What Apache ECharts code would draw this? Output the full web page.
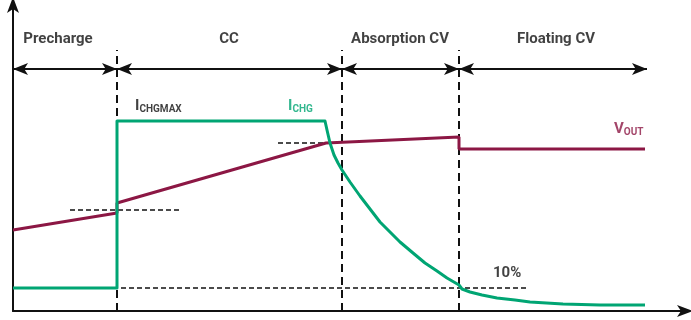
<!DOCTYPE html>
<html><head><meta charset="utf-8">
<script src="https://cdn.jsdelivr.net/npm/echarts@6/dist/echarts.min.js"></script>
<style>html,body{margin:0;padding:0;background:#fff}#c{width:691px;height:320px}</style>
</head><body><div id="c"></div>
<script>
// Data (arbitrary time / level units)
var voutData = [[0,81],[104,98],[104,108],[313,168],[446,174],[446,162],[632,162]];
var ichgData = [[0,23],[104,23],[104,190],[312,190],[314,181],[317,168],[321,156],[325,148],[329,141],[337,129],[347,115],[357,102],[367,89],[377,79],[387,69],[400,58],[412,48],[424,40],[434,33],[446,26],[449,22],[457,19],[469,16],[484,13],[502,11],[517,9],[550,7],[587,6],[632,6]];
var phaseNames = ['Precharge','CC','Absorption CV','Floating CV'];
var phaseBounds = [0,104,329,446,634];
var phaseLabelX = [45,216,387,543];
var phaseBoundaryLines = [104,329,446];
var refLines = [[57,167,101],[265,313,168],[108,514,23]]; // [xStart,xEnd,level]
var pctLabel = '10%';

var GREEN = '#00A573', MAROON = '#8C1744';
var arrowY = 242, nameY = 272, dashTop = 261;

var phaseArrows = [];
for (var i=0;i<phaseNames.length;i++){
  phaseArrows.push([{coord:[phaseBounds[i],arrowY]},{coord:[phaseBounds[i+1],arrowY]}]);
}
var vLines = phaseBoundaryLines.map(function(x){return [{coord:[x,0]},{coord:[x,dashTop]}];});
var hLines = refLines.map(function(r){return [{coord:[r[0],r[2]]},{coord:[r[1],r[2]]}];});

var labelData = phaseNames.map(function(n,i){
  return {value:[phaseLabelX[i], nameY], label:{formatter:n, align:'center'}};
});
labelData.push({value:[122,206], label:{formatter:'{m|I}{s|CHGMAX}', align:'left', color:'#111'}});
labelData.push({value:[275,206], label:{formatter:'{m|I}{s|CHG}', align:'left', color:GREEN}});
labelData.push({value:[601,183], label:{formatter:'{m|V}{s|OUT}', align:'left', color:MAROON}});
labelData.push({value:[480,38], label:{formatter:pctLabel, align:'left'}});

var chart = echarts.init(document.getElementById('c'));
chart.setOption({
  animation:false,
  grid:{left:13, right:6, top:5, bottom:9},
  xAxis:{type:'value', min:0, max:672, splitLine:{show:false}, axisTick:{show:false}, axisLabel:{show:false},
    axisLine:{lineStyle:{color:'#111', width:2}, symbol:['none','arrow'], symbolSize:[9,16], symbolOffset:[0,8]}},
  yAxis:{type:'value', min:0, max:306, splitLine:{show:false}, axisTick:{show:false}, axisLabel:{show:false},
    axisLine:{lineStyle:{color:'#111', width:2}, symbol:['none','arrow'], symbolSize:[9,16], symbolOffset:[0,8]}},
  series:[
    {type:'line', data:[], silent:true,
     markLine:{silent:true, symbol:['none','none'], label:{show:false},
       lineStyle:{color:'#111', width:2, type:[8,5]}, data:vLines}},
    {type:'line', data:[], silent:true,
     markLine:{silent:true, symbol:['none','none'], label:{show:false},
       lineStyle:{color:'#111', width:1.5, type:[5,3]}, data:hLines}},
    {type:'line', data:[], silent:true,
     markLine:{silent:true, symbol:['arrow','arrow'], symbolSize:[9,15], label:{show:false},
       lineStyle:{color:'#111', width:2, type:'solid'}, data:phaseArrows}},
    {name:'VOUT', type:'line', data:voutData, showSymbol:false, lineStyle:{color:MAROON, width:3}, z:5},
    {name:'ICHG', type:'line', data:ichgData, showSymbol:false, smooth:false, lineStyle:{color:GREEN, width:3, join:'round'}, z:6},
    {type:'scatter', data:labelData, symbolSize:0, silent:true, z:10,
     label:{show:true, position:'inside', color:'#111', fontFamily:'Roboto', fontWeight:'bold', fontSize:15,
       rich:{m:{fontFamily:'Roboto', fontWeight:'bold', fontSize:15, verticalAlign:'bottom', lineHeight:18},
             s:{fontFamily:'Roboto', fontWeight:'bold', fontSize:10, verticalAlign:'bottom', lineHeight:12, padding:[6,0,0,0]}}}}
  ]
});
</script></body></html>
